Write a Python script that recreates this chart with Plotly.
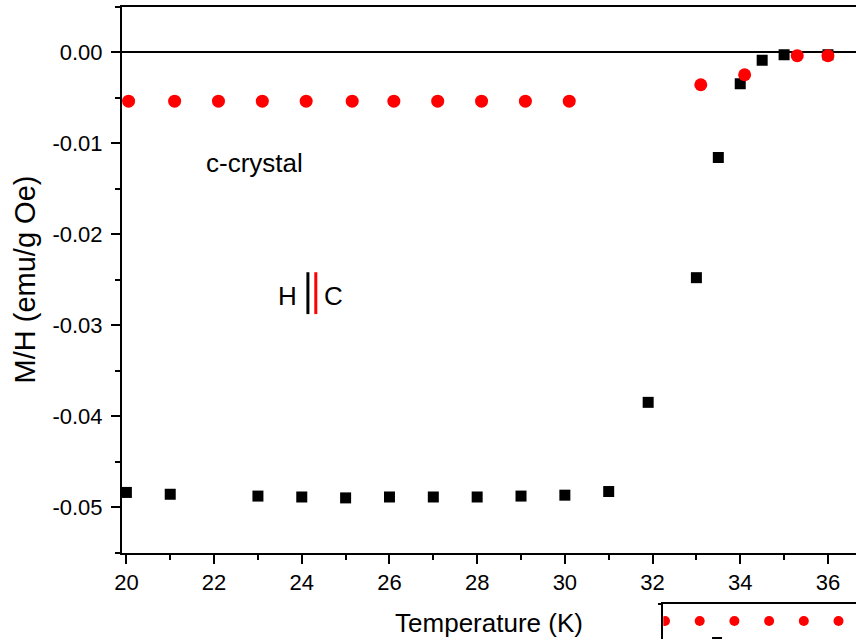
import plotly.graph_objects as go

# Field-cooled susceptibility of the c-crystal, two field orientations
temp_h = [20.0, 21.0, 23.0, 24.0, 25.0, 26.0, 27.0, 28.0, 29.0, 30.0, 31.0,
          31.9, 33.0, 33.5, 34.0, 34.5, 35.0, 36.0]
mh_h = [-0.0484, -0.0486, -0.0488, -0.0489, -0.0490, -0.0489, -0.0489, -0.0489,
        -0.0488, -0.0487, -0.0483, -0.0385, -0.0248, -0.0116, -0.0035, -0.0009,
        -0.0003, -0.0003]

temp_c = [20.05, 21.1, 22.1, 23.1, 24.1, 25.15, 26.1, 27.1, 28.1, 29.1, 30.1,
          33.1, 34.1, 35.3, 36.0]
mh_c = [-0.0054, -0.0054, -0.0054, -0.0054, -0.0054, -0.0054, -0.0054, -0.0054,
        -0.0054, -0.0054, -0.0054, -0.0036, -0.0025, -0.0004, -0.0004]

# Lower panel (only its top edge is on the page)
temp_c2 = [20.0, 21.0, 22.0, 23.0, 24.0, 25.0]
mh_c2 = [-0.0054, -0.0054, -0.0054, -0.0054, -0.0054, -0.0054]
temp_h2 = [21.5]
mh_h2 = [-0.0077]

x_ticks = [20, 22, 24, 26, 28, 30, 32, 34, 36]
y_ticks = [0.0, -0.01, -0.02, -0.03, -0.04, -0.05]
y_tick_text = ["0.00", "-0.01", "-0.02", "-0.03", "-0.04", "-0.05"]

W, H = 856, 639
FONT = "Arial, Liberation Sans, sans-serif"

fig = go.Figure()
fig.add_trace(go.Scatter(x=temp_h, y=mh_h, mode="markers", name="H",
                         marker=dict(symbol="square", size=11, color="black"),
                         xaxis="x", yaxis="y"))
fig.add_trace(go.Scatter(x=temp_c, y=mh_c, mode="markers", name="C",
                         marker=dict(symbol="circle", size=13, color="#ff0000"),
                         xaxis="x", yaxis="y"))
fig.add_trace(go.Scatter(x=temp_c2, y=mh_c2, mode="markers", cliponaxis=True,
                         marker=dict(symbol="circle", size=10, color="#ff0000"),
                         xaxis="x2", yaxis="y2"))
fig.add_trace(go.Scatter(x=temp_h2, y=mh_h2, mode="markers", cliponaxis=True,
                         marker=dict(symbol="square", size=10, color="black"),
                         xaxis="x2", yaxis="y2"))

axis_common = dict(showgrid=False, showline=True, linecolor="black", linewidth=2,
                   ticks="outside", tickcolor="black", tickwidth=2, automargin=False,
                   tickfont=dict(family=FONT, size=22, color="black"))

fig.update_layout(
    template="none",
    width=W, height=H,
    margin=dict(l=0, r=0, t=0, b=0, autoexpand=False),
    paper_bgcolor="white", plot_bgcolor="white",
    showlegend=False,
    xaxis=dict(domain=[122 / W, 1.0], range=[19.9, 36.64], anchor="y",
               tickvals=x_ticks, ticklen=9, mirror=True,
               minor=dict(dtick=1, tick0=20, ticklen=5, tickwidth=2,
                          ticks="outside", tickcolor="black"),
               zeroline=False,
               title=dict(text="Temperature (K)", standoff=20,
                          font=dict(family=FONT, size=26, color="black")),
               **axis_common),
    yaxis=dict(domain=[(H - 552.5) / H, (H - 6.5) / H], range=[-0.055, 0.005],
               anchor="x", tickvals=y_ticks, ticktext=y_tick_text, ticklen=9,
               ticklabelstandoff=4,
               minor=dict(dtick=0.005, tick0=0, ticklen=5, tickwidth=2,
                          ticks="outside", tickcolor="black"),
               zeroline=True, zerolinecolor="black", zerolinewidth=2,
               title=dict(text="M/H (emu/g Oe)", standoff=8,
                          font=dict(family=FONT, size=29, color="black")),
               **axis_common),
    xaxis2=dict(domain=[663.3 / W, 1.0], range=[19.951, 25.504], anchor="y2",
                showgrid=False, showline=True, linecolor="black", linewidth=2,
                mirror=True, ticks="", showticklabels=False, zeroline=False,
                automargin=False),
    yaxis2=dict(domain=[0.0, (H - 604.3) / H], range=[-0.00737, -0.00356],
                anchor="x2", showgrid=False, showline=True, linecolor="black",
                linewidth=2, ticks="outside", ticklen=3, tickwidth=2,
                tickcolor="black", tickvals=[-0.00356], showticklabels=False,
                zeroline=False, automargin=False),
)

# Field-direction sketch: H parallel to c
fig.add_shape(type="line", xref="x", yref="y", x0=24.14, x1=24.14,
              y0=-0.0242, y1=-0.0288, line=dict(color="black", width=3))
fig.add_shape(type="line", xref="x", yref="y", x0=24.32, x1=24.32,
              y0=-0.0242, y1=-0.0288, line=dict(color="#ff0000", width=3))
fig.add_annotation(x=23.68, y=-0.0268, xref="x", yref="y", text="H",
                   showarrow=False, font=dict(family=FONT, size=26, color="black"))
fig.add_annotation(x=24.72, y=-0.0268, xref="x", yref="y", text="C",
                   showarrow=False, font=dict(family=FONT, size=26, color="black"))
fig.add_annotation(x=22.92, y=-0.0122, xref="x", yref="y", text="c-crystal",
                   showarrow=False, font=dict(family=FONT, size=26, color="black"))

fig.write_html("out.html")
